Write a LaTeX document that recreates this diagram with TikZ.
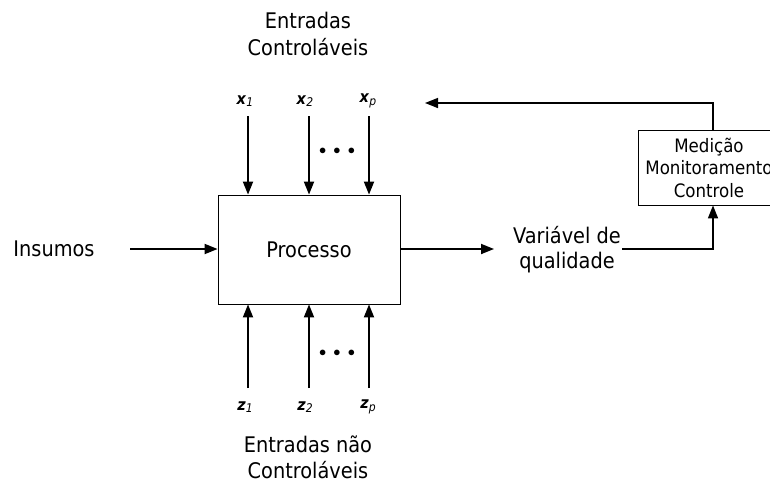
\documentclass[tikz,border=0pt]{standalone}
\usepackage{fontspec}
\setmainfont{DejaVu Sans Condensed}
\usetikzlibrary{arrows.meta}
\newcommand{\vsub}[2]{\textbf{\textit{#1}}\raisebox{-2.5pt}{\fontsize{12}{12}\selectfont\itshape #2}}
\begin{document}
\begin{tikzpicture}[x=1pt,y=-1pt,
  lbl/.style={font=\fontsize{21.5}{26}\selectfont, inner sep=0pt, align=center},
  var/.style={font=\fontsize{16}{16}\selectfont, inner sep=0pt},
  arr/.style={line width=1.8pt, -{Triangle[length=13pt,width=10pt]}},
  dots/.style={font=\fontsize{14}{14}\selectfont, inner sep=0pt}]
\useasboundingbox (0,0) rectangle (770,488);
\clip (0,0) rectangle (770,488);
% main box
\node (proc) [draw, line width=0.8pt, minimum width=182pt, minimum height=109pt, inner sep=0pt, font=\fontsize{21.5}{26}\selectfont] at (309,249.5) {Processo};
\node (med) [draw, line width=0.8pt, minimum width=142pt, minimum height=75pt, inner sep=0pt, align=center, font=\fontsize{18.5}{22.5}\selectfont] at (709,167.5) {Medição\\Monitoramento\\Controle};
% labels
\node (ent1) [lbl, font=\fontsize{21.5}{27}\selectfont] at (308,33.5) {Entradas\\Controláveis};
\node (ent2) [lbl, font=\fontsize{21.5}{26}\selectfont] at (308,457) {Entradas não\\Controláveis};
\node (ins) [lbl] at (54,249) {Insumos};
\node (var) [lbl, font=\fontsize{21.5}{25}\selectfont] at (567,249.5) {Variável de\\qualidade};
\node (x1) [var] at (245,101) {\vsub{x}{1}};
\node (x2) [var] at (305,101) {\vsub{x}{2}};
\node (xp) [var] at (368,101) {\vsub{x}{p}};
\node (z1) [var] at (245,407) {\vsub{z}{1}};
\node (z2) [var] at (305,407) {\vsub{z}{2}};
\node (zp) [var] at (368,407) {\vsub{z}{p}};
\node (d1) [dots] at (337,151) {$\bullet\;\bullet\;\bullet$};
\node (d2) [dots] at (337,353) {$\bullet\;\bullet\;\bullet$};
% coordinates
\coordinate (tx1) at (248,116);
\coordinate (tx2) at (309,116);
\coordinate (txp) at (369,116);
\coordinate (bz1) at (248,388);
\coordinate (bz2) at (309,388);
\coordinate (bzp) at (369,388);
\coordinate (insE) at (130,249);
\coordinate (outE) at (494,249);
\coordinate (vE) at (622,249);
\coordinate (corner) at (713,249);
\coordinate (fbtop) at (713,103);
\coordinate (fbend) at (425,103);
% arrows
\draw[arr] (tx1) -- (tx1 |- proc.north);
\draw[arr] (tx2) -- (tx2 |- proc.north);
\draw[arr] (txp) -- (txp |- proc.north);
\draw[arr] (bz1) -- (bz1 |- proc.south);
\draw[arr] (bz2) -- (bz2 |- proc.south);
\draw[arr] (bzp) -- (bzp |- proc.south);
\draw[arr] (insE) -- (proc.west |- insE);
\draw[arr] (proc.east |- outE) -- (outE);
\draw[arr, line width=1.5pt] (vE) -- (corner) -- (corner |- med.south);
\draw[arr, line width=1.5pt] (fbtop |- med.north) -- (fbtop) -- (fbend);
\end{tikzpicture}
\end{document}
